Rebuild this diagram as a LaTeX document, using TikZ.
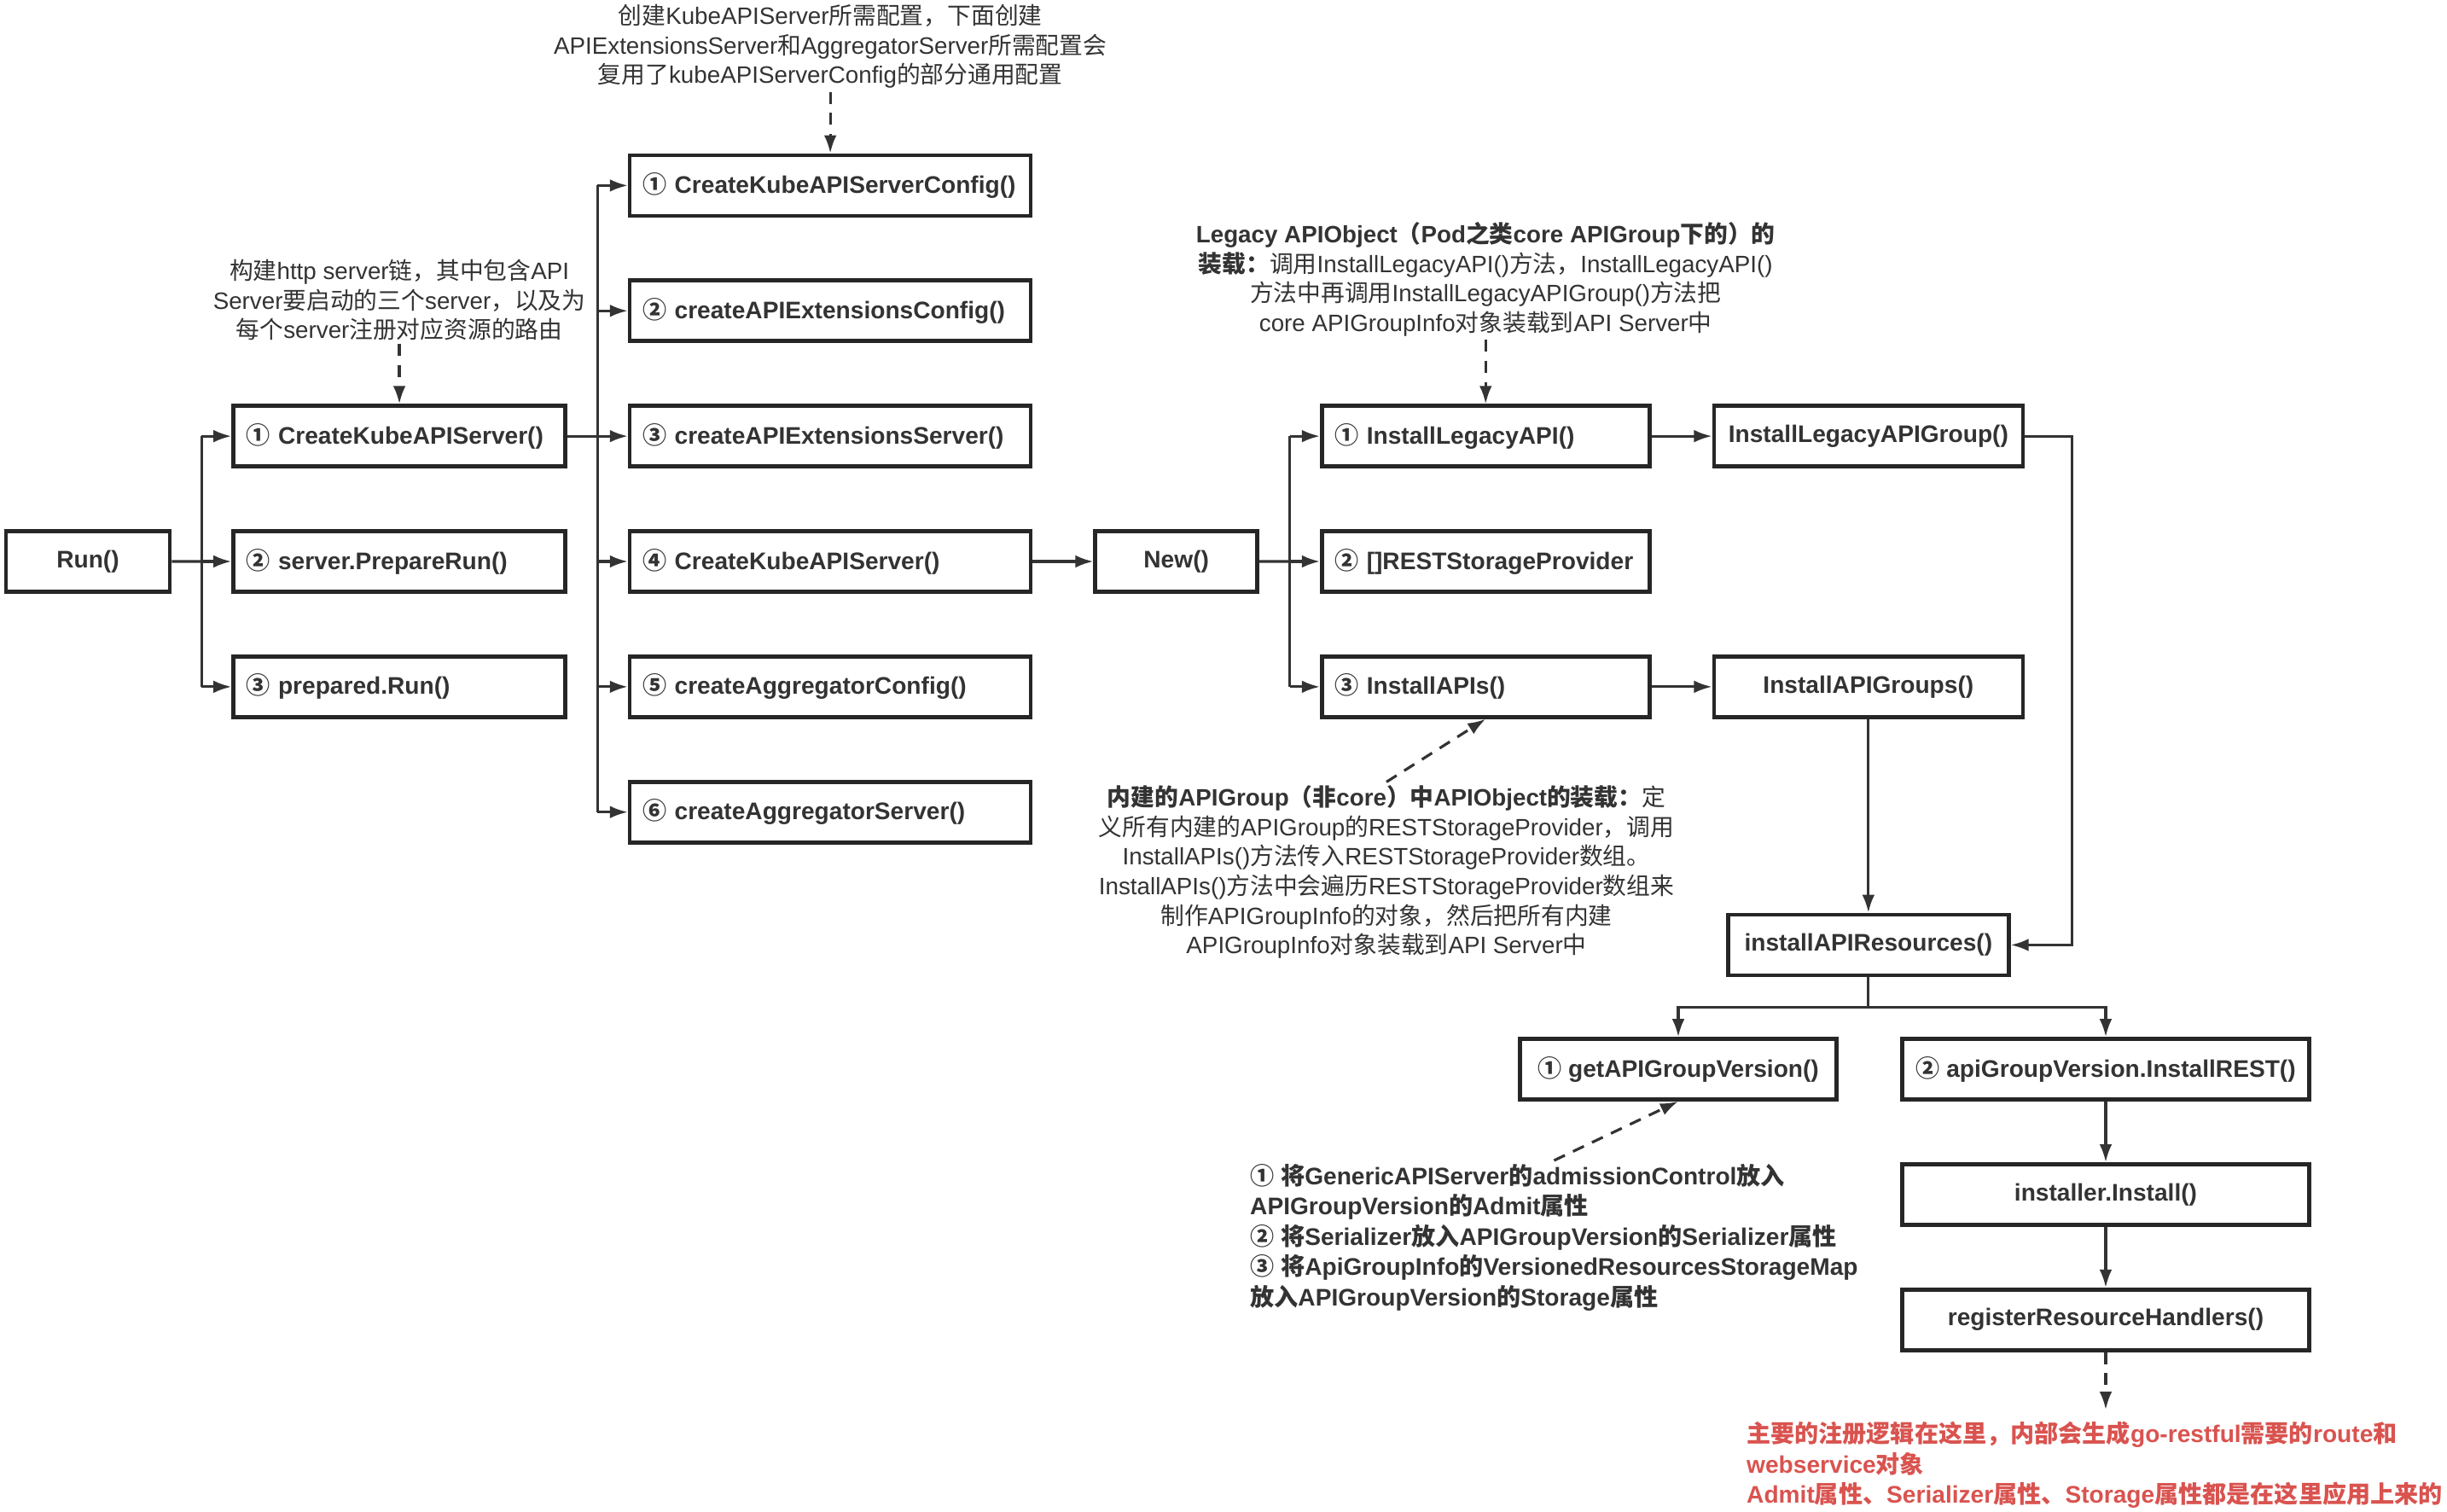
\documentclass[tikz,border=0pt]{standalone}
\usepackage{fontspec}
\usepackage{xcolor}
\setmainfont{Liberation Sans}
\newfontfamily\cjk{Noto Sans CJK SC}
\usetikzlibrary{arrows.meta,positioning,calc}

\definecolor{redtxt}{RGB}{217,83,79}

% Chinese characters and circled digits are set in Noto Sans CJK SC
\XeTeXinterchartokenstate=1
\newXeTeXintercharclass\cjkclass
\newcount\cjkchar
\def\setcjkrange#1#2{\cjkchar=#1 \loop\XeTeXcharclass\cjkchar=\cjkclass
  \advance\cjkchar by 1 \ifnum\cjkchar<#2 \repeat}
\setcjkrange{"2460}{"2500}
\setcjkrange{"3000}{"3040}
\setcjkrange{"4E00}{"A000}
\setcjkrange{"FF00}{"FFF0}
\XeTeXinterchartoks 0 \cjkclass = {\begingroup\cjk}
\XeTeXinterchartoks 4095 \cjkclass = {\begingroup\cjk}
\XeTeXinterchartoks \cjkclass 0 = {\endgroup}
\XeTeXinterchartoks \cjkclass 4095 = {\endgroup}

\begin{document}
\begin{tikzpicture}[
  node distance=0.713cm and 0.71cm,
  func/.style={rectangle, draw=black!85, line width=1.3pt, fill=white,
               minimum height=0.71cm, inner xsep=0.15cm, inner ysep=0pt,
               font=\bfseries\fontsize{8}{10}\selectfont, text=black!80},
  funcl/.style={func, align=left, execute at begin node={\hyphenpenalty=10000}},
  note/.style={align=center, inner sep=1pt, text=black!80,
               font=\fontsize{7.9}{9.85}\selectfont},
  bnote/.style={align=left, inner sep=1pt, text=black!80,
                font=\bfseries\fontsize{8}{10.1}\selectfont},
  line/.style={line width=0.9pt, black!80},
  arr/.style={line, -{Latex[length=6pt,width=4.2pt]}},
  darr/.style={arr, dash pattern=on 4pt off 3pt}
]
\fill[white] (0,0) rectangle (28.68,-17.72);
\useasboundingbox (0,0) rectangle (28.68,-17.72);

\node[func, minimum width=1.92cm] (run) at (1.03,-6.58) {Run()};
\node[funcl, text width=3.59cm, right=0.70cm of run] (prep) {②~server.PrepareRun()};
\node[funcl, text width=3.59cm, above=of prep] (mkserver) {①~CreateKubeAPIServer()};
\node[funcl, text width=3.59cm, below=of prep] (prun) {③~prepared.Run()};

\node[funcl, text width=4.40cm, right=of prep] (kasrv) {④~CreateKubeAPIServer()};
\node[funcl, text width=4.40cm, above=of kasrv] (extsrv) {③~createAPIExtensionsServer()};
\node[funcl, text width=4.40cm, above=of extsrv] (extcfg) {②~createAPIExtensionsConfig()};
\node[funcl, text width=4.40cm, above=of extcfg] (kacfg) {①~CreateKubeAPIServerConfig()};
\node[funcl, text width=4.40cm, below=of kasrv] (aggcfg) {⑤~createAggregatorConfig()};
\node[funcl, text width=4.40cm, below=of aggcfg] (aggsrv) {⑥~createAggregatorServer()};

\node[func, minimum width=1.90cm, right=of kasrv] (new) {New()};
\node[funcl, text width=3.54cm, right=of new] (rsp) {②~[]RESTStorageProvider};
\node[funcl, text width=3.54cm, above=of rsp] (legacy) {①~InstallLegacyAPI()};
\node[funcl, text width=3.54cm, below=of rsp] (apis) {③~InstallAPIs()};

\node[func, minimum width=3.62cm, right=of legacy] (legacygrp) {InstallLegacyAPIGroup()};
\node[func, minimum width=3.62cm, right=of apis] (apigrps) {InstallAPIGroups()};
\node[func, minimum width=3.29cm, below=2.27cm of apigrps] (res) {installAPIResources()};
\node[func, minimum width=3.71cm] (getver) at (19.67,-12.53) {① getAPIGroupVersion()};
\node[func, minimum width=4.77cm] (instrest) at (24.68,-12.53) {② apiGroupVersion.InstallREST()};
\node[func, minimum width=4.77cm, below=of instrest] (installer) {installer.Install()};
\node[func, minimum width=4.77cm, below=of installer] (register) {registerResourceHandlers()};

% notes
\node[note, above=0.72cm of kacfg] (cfgnote)
  {创建KubeAPIServer所需配置，下面创建\\APIExtensionsServer和AggregatorServer所需配置会\\复用了kubeAPIServerConfig的部分通用配置};
\node[note, above=0.7cm of mkserver] (chainnote)
  {构建http server链，其中包含API\\Server要启动的三个server，以及为\\每个server注册对应资源的路由};
\node[note, above=0.75cm of legacy] (legacynote)
  {\textbf{Legacy APIObject（Pod之类core APIGroup下的）的}\\\textbf{装载：}调用InstallLegacyAPI()方法，InstallLegacyAPI()\\方法中再调用InstallLegacyAPIGroup()方法把\\core APIGroupInfo对象装载到API Server中};
\node[note] (builtinnote) at (16.25,-10.22)
  {\textbf{内建的APIGroup（非core）中APIObject的装载：}定\\义所有内建的APIGroup的RESTStorageProvider，调用\\InstallAPIs()方法传入RESTStorageProvider数组。\\InstallAPIs()方法中会遍历RESTStorageProvider数组来\\制作APIGroupInfo的对象，然后把所有内建\\APIGroupInfo对象装载到API Server中};
\node[bnote, anchor=north west] (gvnote) at (14.61,-13.6)
  {① 将GenericAPIServer的admissionControl放入\\APIGroupVersion的Admit属性\\② 将Serializer放入APIGroupVersion的Serializer属性\\③ 将ApiGroupInfo的VersionedResourcesStorageMap\\放入APIGroupVersion的Storage属性};
\node[bnote, anchor=north west, text=redtxt] (mainnote) at (20.43,-16.62)
  {主要的注册逻辑在这里，内部会生成go-restful需要的route和\\webservice对象\\Admit属性、Serializer属性、Storage属性都是在这里应用上来的};

% Run() fan-out
\coordinate (bus1) at ($(run.east)!0.5!(prep.west)$);
\draw[line] (run) -- (bus1);
\draw[line] (bus1 |- mkserver) -- (bus1 |- prun);
\foreach \n in {mkserver,prep,prun}
  \draw[arr] (bus1 |- \n) -- (\n);

% CreateKubeAPIServer() fan-out
\coordinate (bus2) at ($(mkserver.east)!0.5!(kasrv.west)$);
\draw[line] (mkserver) -- (bus2 |- mkserver);
\draw[line] (bus2 |- kacfg) -- (bus2 |- aggsrv);
\foreach \n in {kacfg,extcfg,extsrv,kasrv,aggcfg,aggsrv}
  \draw[arr] (bus2 |- \n) -- (\n);

\draw[arr] (kasrv) -- (new);

% New() fan-out
\coordinate (bus3) at ($(new.east)!0.5!(rsp.west)$);
\draw[line] (new) -- (bus3);
\draw[line] (bus3 |- legacy) -- (bus3 |- apis);
\foreach \n in {legacy,rsp,apis}
  \draw[arr] (bus3 |- \n) -- (\n);

\draw[arr] (legacy) -- (legacygrp);
\draw[arr] (apis) -- (apigrps);
\coordinate (loop) at ($(legacygrp.east)+(0.55,0)$);
\draw[arr] (legacygrp) -- (loop) |- (res);
\draw[arr] (apigrps) -- (res);

\coordinate (split) at ($(res.south)!0.5!(res.south |- getver.north)$);
\draw[line] (res) -- (split);
\draw[arr] (split) -| (getver);
\draw[arr] (split) -| (instrest);
\draw[arr] (instrest) -- (installer);
\draw[arr] (installer) -- (register);

% dashed notes
\coordinate (regend) at ($(register.south |- mainnote.north)+(0,0.1)$);
\draw[darr] (register) -- (regend);
\draw[darr] (cfgnote) -- (kacfg);
\draw[darr] (chainnote) -- (mkserver);
\draw[darr] (legacynote) -- (legacy);
\draw[darr] (builtinnote.north) -- (apis.south);
\draw[darr] (gvnote.north) -- (getver.south);
\end{tikzpicture}
\end{document}
